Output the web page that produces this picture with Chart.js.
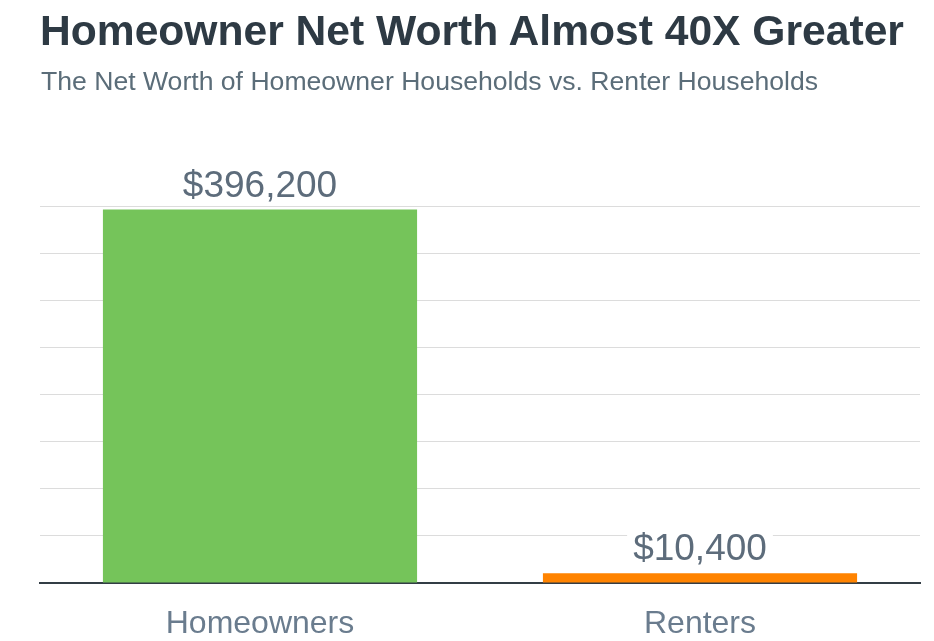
<!DOCTYPE html>
<html>
<head>
<meta charset="utf-8">
<script src="https://cdn.jsdelivr.net/npm/chart.js@4.4.1/dist/chart.umd.min.js"></script>
<style>
  html, body { margin: 0; padding: 0; background: #ffffff; }
  body { width: 934px; height: 641px; position: relative; overflow: hidden; font-family: "Liberation Sans", Arial, sans-serif; }
  #title { position: absolute; left: 40px; top: 9px; font-size: 42.6px; line-height: 43px; font-weight: bold; color: #2e3a44; white-space: nowrap; }
  #subtitle { position: absolute; left: 41px; top: 68px; font-size: 26.6px; line-height: 27px; color: #5b6d79; white-space: nowrap; }
  #wrap { position: absolute; left: 0; top: 0; width: 934px; height: 641px; }
</style>
</head>
<body>
<div id="wrap"><canvas id="c" width="934" height="641"></canvas></div>
<div id="title">Homeowner Net Worth Almost 40X Greater</div>
<div id="subtitle">The Net Worth of Homeowner Households vs. Renter Households</div>
<script>
const categories = ["Homeowners", "Renters"];
const netWorth = [396200, 10400];
const barColors = ["#75c45a", "#ff8300"];
const valueLabels = ["$396,200", "$10,400"];
const yMax = 400000;
const yStep = 50000;

const valueLabelPlugin = {
  id: 'valueLabels',
  afterDatasetsDraw(chart) {
    const ctx = chart.ctx;
    const meta = chart.getDatasetMeta(0);
    ctx.save();
    ctx.font = '37px "Liberation Sans", Arial, sans-serif';
    ctx.textAlign = 'center';
    ctx.textBaseline = 'alphabetic';
    meta.data.forEach((bar, i) => {
      const txt = valueLabels[i];
      const w = ctx.measureText(txt).width;
      const baseY = bar.y - 13;
      ctx.fillStyle = '#ffffff';
      ctx.fillRect(bar.x - w / 2 - 6, baseY - 30, w + 12, 36);
      ctx.fillStyle = '#5d6c7b';
      ctx.fillText(txt, bar.x, baseY);
    });
    ctx.restore();
  }
};

new Chart(document.getElementById('c'), {
  type: 'bar',
  data: {
    labels: categories,
    datasets: [{
      data: netWorth,
      backgroundColor: barColors,
      borderWidth: 0,
      categoryPercentage: 1.0,
      barPercentage: 0.714
    }]
  },
  options: {
    responsive: false,
    animation: false,
    devicePixelRatio: 1,
    layout: { padding: { left: 40, right: 14, top: 206, bottom: 3 } },
    plugins: { legend: { display: false }, tooltip: { enabled: false }, title: { display: false } },
    scales: {
      x: {
        grid: { display: false, drawTicks: false },
        border: { display: true, color: '#333d45', width: 2 },
        afterFit(scale) { scale.height = 55; },
        ticks: {
          padding: 22,
          maxRotation: 0,
          color: '#6a7c8e',
          font: { size: 32, family: '"Liberation Sans", Arial, sans-serif' }
        }
      },
      y: {
        min: 0,
        max: yMax,
        ticks: { display: false, stepSize: yStep },
        grid: { color: '#dcdcdc', lineWidth: 1, drawTicks: false },
        border: { display: false }
      }
    }
  },
  plugins: [valueLabelPlugin]
});
</script>
</body>
</html>
